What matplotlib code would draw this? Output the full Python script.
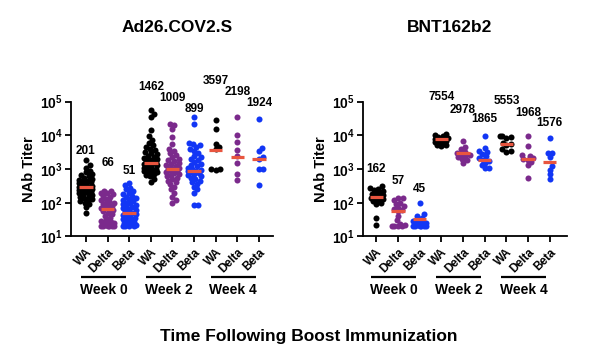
import numpy as np
import matplotlib
matplotlib.use("Agg")
import matplotlib.pyplot as plt
import matplotlib.ticker as mticker
import matplotlib.transforms as mtrans

plt.rcParams['font.family'] = ['Liberation Sans', 'DejaVu Sans']
plt.rcParams['font.weight'] = 'bold'
plt.rcParams['mathtext.fontset'] = 'custom'
plt.rcParams['mathtext.rm'] = 'Liberation Sans:bold'
plt.rcParams['mathtext.bf'] = 'Liberation Sans:bold'

# categories
variants = ['WA', 'Delta', 'Beta']
weeks = ['Week 0', 'Week 2', 'Week 4']
vaccines = ['Ad26.COV2.S', 'BNT162b2']

# geometric mean titers (labels above columns)
gmt_ad26 = [201, 66, 51, 1462, 1009, 899, 3597, 2198, 1924]
gmt_bnt = [162, 57, 45, 7554, 2978, 1865, 5553, 1968, 1576]

# red bar level for each column
bar_ad26 = [290, 66, 51, 1462, 1009, 899, 3597, 2198, 1924]
bar_bnt = [145, 57, 32, 7554, 2978, 1865, 5553, 1968, 1576]

# individual titers, Ad26.COV2.S
ad26_wa_w0 = [1900, 1300, 1100, 900, 800, 700, 650, 600, 550, 500, 470, 450, 420, 400,
              380, 350, 330, 310, 300, 290, 280, 270, 260, 250, 240, 230, 210, 200, 190,
              180, 170, 160, 150, 140, 130, 120, 110, 100, 90, 75, 48]
ad26_delta_w0 = [230, 220, 200, 190, 180, 160, 150, 130, 120, 110, 100, 95, 90, 85, 80,
                 75, 70, 65, 60, 55, 50, 45, 40, 35, 30, 28, 26, 25, 24, 23, 22, 22, 21,
                 21, 20, 20, 20, 20]
ad26_beta_w0 = [380, 330, 280, 250, 220, 200, 180, 160, 150, 140, 130, 120, 110, 100, 95,
                90, 85, 80, 75, 70, 65, 60, 55, 50, 48, 45, 42, 40, 38, 35, 32, 30, 28, 26,
                25, 24, 23, 22, 21, 20, 20, 20]
ad26_wa_w2 = [57000, 42000, 35000, 14000, 9500, 7500, 6000, 5000, 4500, 4000, 3600, 3200,
              3000, 2700, 2500, 2300, 2100, 2000, 1900, 1800, 1700, 1600, 1500, 1450, 1400,
              1300, 1200, 1150, 1100, 1000, 950, 900, 850, 800, 750, 700, 650, 600, 500, 400]
ad26_delta_w2 = [22000, 20000, 15000, 9000, 5500, 4000, 3500, 3000, 2600, 2300, 2000, 1800,
                 1700, 1500, 1400, 1300, 1200, 1100, 1050, 1000, 950, 900, 850, 800, 750,
                 700, 650, 600, 550, 500, 450, 400, 350, 300, 250, 200, 150, 120, 100]
ad26_beta_w2 = [35000, 22000, 6000, 5500, 5000, 4500, 4000, 3500, 3000, 2500, 2200, 2000,
                1800, 1600, 1400, 1300, 1200, 1100, 1000, 950, 900, 850, 800, 750, 700, 650,
                600, 550, 500, 450, 400, 350, 300, 250, 200, 85, 85]
ad26_wa_w4 = [28000, 15000, 5500, 4500, 3800, 1000, 1000, 950]
ad26_delta_w4 = [35000, 10000, 6500, 3600, 2500, 1500, 690, 470]
ad26_beta_w4 = [30000, 4100, 3400, 2300, 2000, 980, 980, 340]

# individual titers, BNT162b2
bnt_wa_w0 = [310, 280, 260, 240, 220, 200, 190, 180, 170, 160, 150, 140, 130, 120, 110,
             100, 90, 35, 22]
bnt_delta_w0 = [140, 135, 120, 100, 90, 80, 70, 65, 60, 55, 40, 30, 24, 22, 21, 20, 20, 20]
bnt_beta_w0 = [100, 45, 40, 35, 30, 28, 26, 25, 24, 23, 22, 22, 21, 21, 20, 20, 20, 20]
bnt_wa_w2 = [11000, 10000, 9500, 9000, 8500, 8000, 7500, 7000, 7000, 6500, 6000, 5500,
             5000, 5000, 4800]
bnt_delta_w2 = [6800, 4500, 3800, 3300, 3000, 2800, 2600, 2400, 2200, 2000, 1800, 1500]
bnt_beta_w2 = [9600, 4200, 3500, 3200, 2800, 2400, 2100, 1900, 1700, 1500, 1300, 1100, 1050]
bnt_wa_w4 = [9500, 9500, 9000, 8500, 6000, 5500, 5000, 3800, 3500, 3300]
bnt_delta_w4 = [9400, 4900, 2600, 2400, 2100, 2000, 1900, 1600, 1300, 530]
bnt_beta_w4 = [8100, 3000, 2900, 2300, 1200, 950, 700, 490]

ad26_groups = [ad26_wa_w0, ad26_delta_w0, ad26_beta_w0, ad26_wa_w2, ad26_delta_w2,
               ad26_beta_w2, ad26_wa_w4, ad26_delta_w4, ad26_beta_w4]
bnt_groups = [bnt_wa_w0, bnt_delta_w0, bnt_beta_w0, bnt_wa_w2, bnt_delta_w2,
              bnt_beta_w2, bnt_wa_w4, bnt_delta_w4, bnt_beta_w4]

# layout: log10 height of each value label
label_pos_ad26 = [3.53, 3.18, 2.94, 5.43, 5.11, 4.78, 5.61, 5.29, 4.96]
label_pos_bnt = [3.0, 2.64, 2.41, 5.14, 4.75, 4.48, 5.02, 4.66, 4.37]

colors = ['#000000', '#7b2a8c', '#1236f5']
red = '#e8553f'

PX_DEC = 33.7      # pixels per decade
PX_UNIT = 21.6     # pixels per category
DOT = 4.4          # spacing between dot centres in px (dots overlap a little)


def swarm(vals, maxw=0.3):
    ys = np.log10(vals) * PX_DEC
    order = np.argsort(ys)
    xs = np.zeros(len(vals))
    placed = []
    lim = maxw * PX_UNIT
    for i in order:
        y = ys[i]
        cands = [0.0]
        for (px, py) in placed:
            dy = abs(y - py)
            if dy < DOT:
                dx = np.sqrt(DOT ** 2 - dy ** 2)
                cands += [px + dx, px - dx]
        cands = sorted(cands, key=abs)
        best = None
        for c in cands:
            if abs(c) > lim:
                break
            ok = all((c - px) ** 2 + (y - py) ** 2 >= DOT ** 2 - 1e-6 for px, py in placed)
            if ok:
                best = c
                break
        if best is None:
            # no free slot inside the column width: pick the least crowded spot
            grid = np.linspace(-lim, lim, 9)
            dmin = [min((g - px) ** 2 + (y - py) ** 2 for px, py in placed) for g in grid]
            best = float(grid[int(np.argmax(dmin))])
        xs[i] = best
        placed.append((best, y))
    return xs / PX_UNIT


fig = plt.figure(figsize=(6, 3.57), dpi=100)
H = 357.0
ax_specs = [(71, 202), (363, 204)]
panels = [(ad26_groups, gmt_ad26, bar_ad26, label_pos_ad26),
          (bnt_groups, gmt_bnt, bar_bnt, label_pos_bnt)]
xlims = [(-0.69, 8.65), (-0.62, 8.8)]

for k, ((x0, w), (groups, gmts, bars, lpos)) in enumerate(zip(ax_specs, panels)):
    ax = fig.add_axes([x0 / 600, (H - 236.4) / H, w / 600, 134.8 / H])
    for i, vals in enumerate(groups):
        xo = swarm(vals)
        ax.scatter(i + xo, vals, s=19, color=colors[i % 3], linewidths=0, zorder=3)
        ax.plot([i - 0.31, i + 0.31], [bars[i], bars[i]], color=red, lw=2.3,
                solid_capstyle='butt', zorder=4)
        ax.text(i, 10 ** lpos[i], str(gmts[i]), ha='center', va='center',
                fontsize=8.5, fontweight='bold', clip_on=False)
    ax.set_yscale('log')
    ax.set_ylim(10, 1e5)
    ax.set_xlim(*xlims[k])
    ax.yaxis.set_major_locator(mticker.FixedLocator([10, 100, 1000, 1e4, 1e5]))
    ax.yaxis.set_minor_locator(mticker.NullLocator())
    ax.yaxis.set_major_formatter(mticker.FuncFormatter(
        lambda v, p: r'$\mathbf{10^{%d}}$' % int(round(np.log10(v)))))
    ax.set_xticks(range(9))
    ax.set_xticklabels(variants * 3, rotation=45, ha='right', rotation_mode='anchor',
                       fontsize=8.5, fontweight='bold')
    ax.tick_params(axis='x', length=4, width=1.3, pad=3)
    ax.tick_params(axis='y', length=4, width=1.3, labelsize=10, pad=2)
    for s in ['top', 'right']:
        ax.spines[s].set_visible(False)
    for s in ['left', 'bottom']:
        ax.spines[s].set_linewidth(1.3)
    ax.set_ylabel('NAb Titer', fontsize=10.5, fontweight='bold', labelpad=3)

    trans = mtrans.blended_transform_factory(ax.transData, ax.transAxes)
    for g, wk in enumerate(weeks):
        c = g * 3 + 1
        ax.plot([c - 1.23, c + 0.85], [-0.303, -0.303], color='black', lw=1.6,
                transform=trans, clip_on=False, solid_capstyle='butt')
        ax.text(c - 0.19, -0.398, wk, transform=trans, ha='center', va='center',
                fontsize=10, fontweight='bold')

fig.text(177 / 600, 1 - 28 / H, vaccines[0], ha='center', va='center',
         fontsize=12.5, fontweight='bold')
fig.text(450 / 600, 1 - 28 / H, vaccines[1], ha='center', va='center',
         fontsize=12.5, fontweight='bold')
fig.text(309 / 600, 1 - 336 / H, 'Time Following Boost Immunization', ha='center',
         va='center', fontsize=12.5, fontweight='bold')

fig.savefig('out.png', dpi=100)
